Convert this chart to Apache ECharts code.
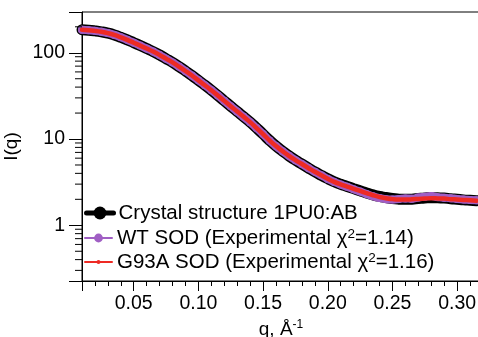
<!DOCTYPE html>
<html><head><meta charset="utf-8">
<script src="https://cdn.jsdelivr.net/npm/echarts@6/dist/echarts.min.js"></script>
<style>html,body{margin:0;padding:0;background:#fff}#c{width:478px;height:337px}</style>
</head><body><div id="c"></div>
<script>
// q values (Å^-1)
const q = [0.010,0.015,0.020,0.025,0.030,0.035,0.040,0.045,0.050,0.055,0.060,0.065,0.070,0.075,0.080,0.085,0.090,0.095,0.100,0.105,0.110,0.115,0.120,0.125,0.130,0.135,0.140,0.145,0.150,0.155,0.160,0.165,0.170,0.175,0.180,0.185,0.190,0.195,0.200,0.205,0.210,0.215,0.220,0.225,0.230,0.235,0.240,0.245,0.250,0.255,0.260,0.265,0.270,0.275,0.280,0.285,0.290,0.295,0.300,0.305,0.310,0.315];
const crystal = [184.5,182.8,179.5,175.0,169.0,161.1,151.4,141.3,130.9,121.1,111.9,103.3,94.4,85.5,77.3,69.2,61.5,54.5,47.9,42.1,36.8,32.0,27.7,24.0,20.8,18.1,15.7,13.4,11.4,9.64,8.28,7.24,6.38,5.69,5.13,4.62,4.17,3.80,3.47,3.20,2.99,2.82,2.66,2.51,2.37,2.25,2.16,2.10,2.04,2.01,2.00,2.01,2.04,2.07,2.09,2.08,2.07,2.03,2.00,1.97,1.95,1.93];
const wt = [184.5,182.8,179.5,175.0,169.0,161.1,151.4,141.3,130.9,121.1,111.9,103.3,94.4,85.5,77.3,69.2,61.5,54.5,47.9,42.1,36.8,32.0,27.7,24.0,20.8,18.1,15.7,13.4,11.4,9.64,8.28,7.24,6.38,5.69,5.13,4.62,4.17,3.80,3.45,3.18,2.97,2.79,2.62,2.46,2.31,2.17,2.07,2.01,1.99,2.02,2.05,2.03,2.10,2.14,2.18,2.12,2.09,2.06,2.02,1.99,1.97,1.95];
const g93a = [184.5,182.8,179.5,175.0,169.0,161.1,151.4,141.3,130.9,121.1,111.9,103.3,94.4,85.5,77.3,69.2,61.5,54.5,47.9,42.1,36.8,32.0,27.7,24.0,20.8,18.1,15.7,13.4,11.4,9.64,8.28,7.24,6.38,5.69,5.13,4.62,4.17,3.80,3.46,3.19,2.98,2.81,2.65,2.50,2.36,2.23,2.13,2.06,2.01,1.99,1.99,2.00,2.02,2.04,2.06,2.05,2.04,2.01,1.99,1.97,1.95,1.93];
const seriesNames = ['Crystal structure 1PU0:AB','WT SOD (Experimental χ²=1.14)','G93A SOD (Experimental χ²=1.16)'];
const yMinorTicks = [0.3,0.4,0.5,0.6,0.7,0.8,0.9,2,3,4,5,6,7,8,9,20,30,40,50,60,70,80,90,200];
const xMin = 0.01, xMax = 0.3177, yMin = 0.226, yMax = 297;

const zip = (a) => q.map((x, i) => [x, a[i]]);
const FONT = 'Liberation Sans, Arial, sans-serif';
const legendText = {fontFamily: FONT, fontSize: 20.5, color: '#000', lineHeight: 22,
  rich: {sup: {fontFamily: FONT, fontSize: 13.5, color: '#000', lineHeight: 12, padding: [0, 0, 8, 0], verticalAlign: 'top'}}};
const mkLegend = (i, center, h, lw) => ({
  orient: 'vertical', left: 84, top: center - 11, itemWidth: 27, itemHeight: h, padding: 0,
  data: [{name: seriesNames[i], lineStyle: {width: lw}}],
  textStyle: legendText,
  formatter: n => n.replace('²', '{sup|2}')
});
const chart = echarts.init(document.getElementById('c'), null, {renderer: 'canvas'});
chart.setOption({
  animation: false,
  backgroundColor: '#fff',
  grid: {left: 82, top: 12, right: -2, bottom: 56, show: true, borderColor: '#000', borderWidth: 1, outerBoundsMode: 'none', containLabel: false},
  xAxis: [{
    type: 'value', min: xMin, max: xMax, splitNumber: 6,
    name: 'q, Å{sup|-1}', nameLocation: 'middle', nameGap: 31,
    nameTextStyle: {fontFamily: FONT, fontSize: 19, color: '#000',
      rich: {sup: {fontFamily: FONT, fontSize: 12, color: '#000', padding: [0, 0, 10, 0]}}},
    axisLine: {lineStyle: {color: '#000', width: 1}},
    axisTick: {length: 10, lineStyle: {color: '#000'}},
    axisLabel: {fontFamily: FONT, fontSize: 19.5, color: '#000', margin: 13,
      formatter: v => Math.abs(v * 20 - Math.round(v * 20)) < 1e-6 ? v.toFixed(2) : ''},
    splitLine: {show: false}
  }, {
    type: 'value', min: xMin, max: xMax, interval: 0.01, position: 'bottom',
    axisLine: {show: false}, axisTick: {length: 5, lineStyle: {color: '#000'}},
    axisLabel: {show: false}, splitLine: {show: false}
  }],
  yAxis: {
    type: 'log', logBase: 10, min: yMin, max: yMax,
    name: 'I(q)', nameLocation: 'middle', nameGap: 52,
    nameTextStyle: {fontFamily: FONT, fontSize: 19, color: '#000'},
    axisLine: {show: true, lineStyle: {color: '#000', width: 1}},
    axisTick: {length: 13, lineStyle: {color: '#000'}},
    axisLabel: {fontFamily: FONT, fontSize: 19.5, color: '#000', margin: 17,
      formatter: v => { const l = Math.log10(v); return Math.abs(l - Math.round(l)) < 1e-6 ? String(Math.round(v)) : ''; }},
    splitLine: {show: false}
  },
  legend: [mkLegend(0, 213, 16, 5), mkLegend(1, 238, 11, 2), mkLegend(2, 262, 5, 2)],
  series: [
    {name: seriesNames[0], type: 'line', data: zip(crystal), smooth: true, symbol: 'circle', symbolSize: 12, showSymbol: false,
      clip: false, itemStyle: {color: '#000'}, lineStyle: {color: '#000', width: 11, cap: 'round'}, z: 2},
    {name: seriesNames[1], type: 'line', data: zip(wt), smooth: true, symbol: 'circle', symbolSize: 8, showSymbol: true,
      clip: false, itemStyle: {color: '#a05fc4'}, lineStyle: {color: '#a05fc4', width: 8, cap: 'round'}, z: 3},
    {name: seriesNames[2], type: 'line', data: zip(g93a), smooth: true, symbol: 'circle', symbolSize: 4, showSymbol: false,
      clip: false, itemStyle: {color: '#ee2a24'}, lineStyle: {color: '#ee2a24', width: 4.5, cap: 'round'}, z: 4},
    {type: 'custom', data: yMinorTicks.map(v => [xMin, v]), silent: true, clip: false, z: 5,
      renderItem: (params, api) => {
        const p = api.coord([api.value(0), api.value(1)]);
        return {type: 'line', shape: {x1: p[0] - 7, y1: p[1], x2: p[0], y2: p[1]}, style: {stroke: '#000', lineWidth: 1}};
      }}
  ]
});
</script></body></html>
